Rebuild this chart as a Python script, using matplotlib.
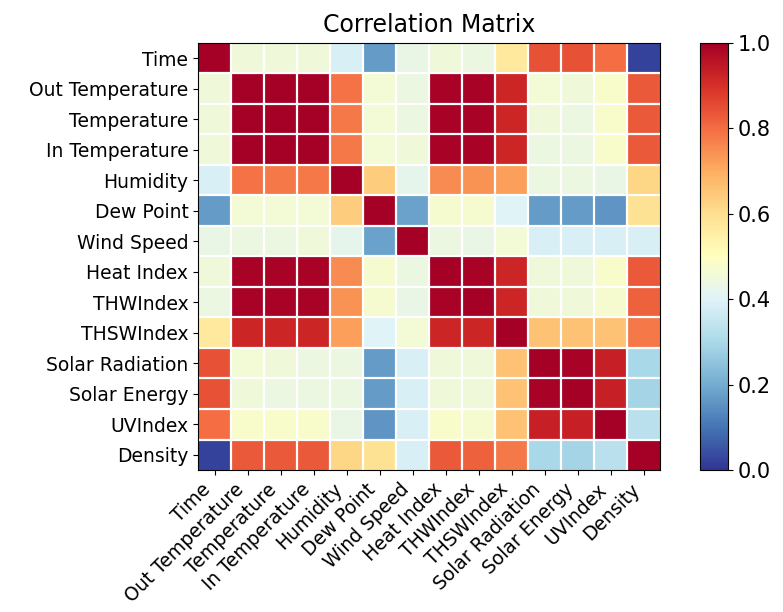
import numpy as np
import matplotlib
matplotlib.use("Agg")
import matplotlib.pyplot as plt

# weather station variables
labels = ["Time", "Out Temperature", "Temperature", "In Temperature",
          "Humidity", "Dew Point", "Wind Speed", "Heat Index", "THWIndex",
          "THSWIndex", "Solar Radiation", "Solar Energy", "UVIndex", "Density"]

# correlation rows, one per variable
r_time     = [1.00, 0.45, 0.45, 0.45, 0.39, 0.17, 0.43, 0.45, 0.44, 0.57, 0.84, 0.84, 0.80, 0.02]
r_outtemp  = [0.45, 1.00, 1.00, 1.00, 0.79, 0.46, 0.44, 0.99, 0.99, 0.92, 0.46, 0.45, 0.48, 0.83]
r_temp     = [0.45, 1.00, 1.00, 1.00, 0.78, 0.46, 0.44, 0.99, 0.99, 0.92, 0.45, 0.44, 0.48, 0.83]
r_intemp   = [0.45, 1.00, 1.00, 1.00, 0.78, 0.46, 0.45, 0.99, 0.99, 0.92, 0.44, 0.44, 0.48, 0.83]
r_humidity = [0.39, 0.79, 0.78, 0.78, 1.00, 0.64, 0.42, 0.75, 0.74, 0.72, 0.44, 0.44, 0.43, 0.62]
r_dewpoint = [0.17, 0.46, 0.46, 0.46, 0.64, 1.00, 0.18, 0.47, 0.47, 0.40, 0.17, 0.17, 0.16, 0.59]
r_wind     = [0.43, 0.44, 0.44, 0.45, 0.42, 0.18, 1.00, 0.44, 0.43, 0.46, 0.39, 0.39, 0.39, 0.39]
r_heat     = [0.45, 0.99, 0.99, 0.99, 0.75, 0.47, 0.44, 1.00, 0.99, 0.92, 0.45, 0.45, 0.48, 0.83]
r_thw      = [0.44, 0.99, 0.99, 0.99, 0.74, 0.47, 0.43, 0.99, 1.00, 0.92, 0.45, 0.45, 0.47, 0.82]
r_thsw     = [0.57, 0.92, 0.92, 0.92, 0.72, 0.40, 0.46, 0.92, 0.92, 1.00, 0.66, 0.66, 0.66, 0.78]
r_solrad   = [0.84, 0.46, 0.45, 0.44, 0.44, 0.17, 0.39, 0.45, 0.45, 0.66, 1.00, 0.99, 0.93, 0.30]
r_solen    = [0.84, 0.45, 0.44, 0.44, 0.44, 0.17, 0.39, 0.45, 0.45, 0.66, 0.99, 1.00, 0.93, 0.29]
r_uv       = [0.80, 0.48, 0.48, 0.48, 0.43, 0.16, 0.39, 0.48, 0.47, 0.66, 0.93, 0.93, 1.00, 0.33]
r_density  = [0.02, 0.83, 0.83, 0.83, 0.62, 0.59, 0.39, 0.83, 0.82, 0.78, 0.30, 0.29, 0.33, 1.00]

corr = np.array([r_time, r_outtemp, r_temp, r_intemp, r_humidity, r_dewpoint,
                 r_wind, r_heat, r_thw, r_thsw, r_solrad, r_solen, r_uv, r_density])

fig = plt.figure(figsize=(7.83, 6.12), dpi=100)
ax = fig.add_axes([0.253, 0.232, 0.590, 0.698])
cax = fig.add_axes([0.894, 0.232, 0.036, 0.698])

im = ax.imshow(corr, cmap="RdYlBu_r", vmin=0, vmax=1, aspect="auto",
               interpolation="nearest")
n = len(labels)
for k in range(1, n):
    ax.axhline(k - 0.5, color="white", lw=1.6)
    ax.axvline(k - 0.5, color="white", lw=1.6)

ax.set_xticks(range(n))
ax.set_yticks(range(n))
ax.set_xticklabels(labels, rotation=45, ha="right", fontsize=13.5)
ax.set_yticklabels(labels, fontsize=13.5)
ax.set_title("Correlation Matrix", fontsize=17, pad=8)

cb = fig.colorbar(im, cax=cax)
cb.set_ticks([0, 0.2, 0.4, 0.6, 0.8, 1.0])
cb.ax.tick_params(labelsize=15)

fig.savefig("out.png", dpi=100)
